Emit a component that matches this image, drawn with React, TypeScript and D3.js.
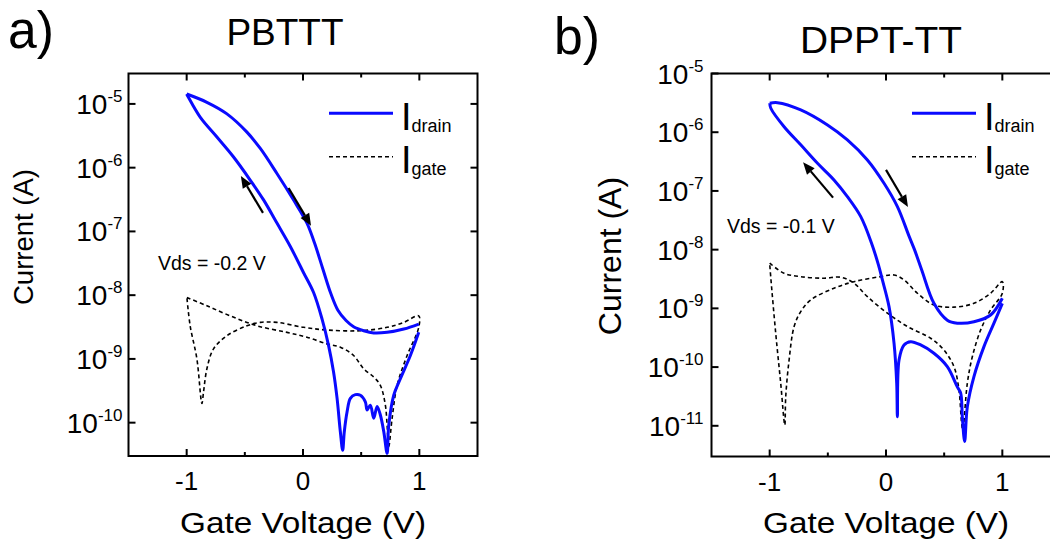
import React from "react";
import * as d3 from "d3";

const FONT = "'Liberation Sans', Arial, Helvetica, sans-serif";
const BLUE = "#0a0aff";

type Pt = [number, number];

// ---------- Panel a) PBTTT ----------
const pbtttDrainForward: Pt[] = [
  [-1.0, 1.43e-5], [-0.826, 1.06e-5], [-0.654, 6.98e-6], [-0.482, 3.61e-6],
  [-0.367, 2.0e-6], [-0.224, 8.1e-7], [-0.081, 3.1e-7], [0.034, 1.35e-7],
  [0.1, 6.5e-8], [0.17, 2.6e-8], [0.24, 1.05e-8], [0.3, 5.8e-9],
  [0.37, 4.0e-9], [0.435, 3.2e-9], [0.522, 2.77e-9], [0.608, 2.55e-9],
  [0.723, 2.61e-9], [0.866, 2.94e-9], [0.995, 3.52e-9],
];
const pbtttDrainReverse: Pt[] = [
  [0.995, 2.61e-9], [0.923, 1.13e-9], [0.837, 4.9e-10], [0.78, 2.69e-10],
  [0.737, 9.1e-11], [0.723, 3.3e-11], [0.694, 7.3e-11], [0.665, 1.32e-10],
  [0.637, 1.8e-10], [0.608, 1.17e-10], [0.579, 1.88e-10], [0.551, 1.58e-10],
  [0.536, 2.12e-10], [0.493, 2.69e-10], [0.45, 2.75e-10], [0.407, 2.4e-10],
  [0.379, 1.48e-10], [0.355, 7.2e-11], [0.341, 3.7e-11], [0.321, 7.2e-11],
  [0.293, 2.4e-10], [0.263, 6.2e-10], [0.22, 1.62e-9], [0.164, 4.2e-9],
  [0.091, 1.1e-8], [0.005, 2.25e-8], [-0.109, 5.8e-8], [-0.224, 1.35e-7],
  [-0.339, 3.12e-7], [-0.454, 6.4e-7], [-0.597, 1.47e-6], [-0.74, 3.02e-6],
  [-0.884, 6.2e-6], [-0.985, 1.27e-5], [-1.0, 1.43e-5],
];
const pbtttGate: Pt[] = [
  [-0.998, 9.2e-9], [-0.826, 6.8e-9], [-0.626, 4.74e-9], [-0.396, 3.31e-9],
  [-0.138, 2.61e-9], [0.034, 2.19e-9], [0.207, 1.72e-9], [0.321, 1.53e-9],
  [0.435, 1.13e-9], [0.522, 7.0e-10], [0.608, 5.2e-10], [0.665, 3.85e-10],
  [0.708, 1.88e-10], [0.723, 9.1e-11], [0.737, 4.2e-11], [0.766, 1.17e-10],
  [0.809, 3.85e-10], [0.895, 1.13e-9], [0.995, 3.13e-9], [0.995, 4.74e-9],
  [0.866, 3.74e-9], [0.723, 3.13e-9], [0.493, 2.77e-9], [0.207, 2.84e-9],
  [0.005, 3.13e-9], [-0.224, 3.74e-9], [-0.367, 3.74e-9], [-0.482, 3.31e-9],
  [-0.654, 2.31e-9], [-0.769, 1.44e-9], [-0.826, 7.0e-10], [-0.855, 3.04e-10],
  [-0.869, 2.0e-10], [-0.912, 1.0e-9], [-0.97, 3.31e-9], [-0.998, 9.2e-9],
];
const pbtttArrowUp: Pt[] = [[-0.344, 1.95e-7], [-0.534, 7.4e-7]];
const pbtttArrowDown: Pt[] = [[-0.124, 4.8e-7], [0.069, 1.23e-7]];
const pbtttYExponents = [-5, -6, -7, -8, -9, -10];

// ---------- Panel b) DPPT-TT ----------
const dpptDrainForward: Pt[] = [
  [-0.999, 3.12e-6], [-0.933, 3.19e-6], [-0.733, 2.4e-6], [-0.503, 1.33e-6],
  [-0.332, 7.4e-7], [-0.16, 3.37e-7], [-0.017, 1.35e-7], [0.098, 5.4e-8],
  [0.198, 1.7e-8], [0.245, 1.0e-8], [0.307, 4.5e-9], [0.412, 1.22e-9],
  [0.527, 6.3e-10], [0.613, 5.6e-10], [0.756, 5.9e-10], [0.899, 7.7e-10],
  [1.0, 1.49e-9],
];
const dpptDrainReverse: Pt[] = [
  [1.0, 1.22e-9], [0.928, 5.6e-10], [0.842, 2.23e-10], [0.756, 6.9e-11],
  [0.699, 2.1e-11], [0.676, 5.4e-12], [0.656, 1.43e-11], [0.642, 3.6e-11],
  [0.613, 4.6e-11], [0.527, 1.02e-10], [0.412, 1.72e-10], [0.298, 2.38e-10],
  [0.212, 2.71e-10], [0.155, 2.38e-10], [0.112, 1.32e-10], [0.098, 1.43e-11],
  [0.092, 5.3e-11], [0.069, 2.55e-10], [0.026, 1.07e-9], [-0.031, 3.05e-9],
  [-0.065, 5.5e-9], [-0.125, 1.3e-8], [-0.217, 3.65e-8], [-0.332, 8.0e-8],
  [-0.447, 1.54e-7], [-0.589, 2.96e-7], [-0.733, 6.1e-7], [-0.876, 1.24e-6],
  [-0.99, 2.56e-6], [-0.999, 3.12e-6],
];
const dpptGate: Pt[] = [
  [-1.0, 5.9e-9], [-0.876, 3.96e-9], [-0.733, 3.47e-9], [-0.533, 3.26e-9],
  [-0.389, 3.39e-9], [-0.275, 2.68e-9], [-0.16, 1.58e-9], [0.012, 8.3e-10],
  [0.184, 4.9e-10], [0.384, 3.1e-10], [0.498, 1.95e-10], [0.584, 1.02e-10],
  [0.627, 4.1e-11], [0.65, 1.1e-11], [0.66, 8.5e-12], [0.699, 5.3e-11],
  [0.742, 1.5e-10], [0.814, 4.3e-10], [0.899, 9.4e-10], [1.0, 1.81e-9],
  [1.0, 2.85e-9], [0.899, 1.81e-9], [0.756, 1.22e-9], [0.584, 1.05e-9],
  [0.412, 1.14e-9], [0.27, 1.81e-9], [0.155, 3.05e-9], [0.069, 3.7e-9],
  [-0.046, 3.47e-9], [-0.275, 2.85e-9], [-0.447, 2.2e-9], [-0.647, 1.39e-9],
  [-0.733, 8.8e-10], [-0.79, 4.9e-10], [-0.833, 1.32e-10], [-0.862, 3.13e-11],
  [-0.87, 1.03e-11], [-0.905, 5.3e-11], [-0.948, 3.77e-10], [-0.991, 3.47e-9],
  [-1.0, 5.9e-9],
];
const dpptArrowUp: Pt[] = [[-0.455, 7.7e-8], [-0.713, 3.08e-7]];
const dpptArrowDown: Pt[] = [[0.0, 2.28e-7], [0.189, 5.3e-8]];
const dpptYExponents = [-5, -6, -7, -8, -9, -10, -11];

const xMajorTicks = [-1, 0, 1];
const xMinorTicks = [-0.5, 0.5];
const xDomain: [number, number] = [-1.5, 1.5];

interface PanelProps {
  x0: number; x1: number; y0: number; y1: number;
  yDomain: [number, number];
  yExps: number[];
  fwd: Pt[]; rev: Pt[]; gate: Pt[];
  arrows: Pt[][];
  vds: string; vdsX: number; vdsY: number;
  legX: number;
  ylabelX: number; ylabelY: number; ylabelSize: number;
  tickLabelGap: number;
}

function Panel(p: PanelProps) {
  const x = d3.scaleLinear().domain(xDomain).range([p.x0, p.x1]);
  const y = d3.scaleLog().domain(p.yDomain).range([p.y1, p.y0]);
  const line = d3
    .line<Pt>()
    .x((d) => x(d[0]))
    .y((d) => y(d[1]))
    .curve(d3.curveCatmullRom.alpha(0.5));
  const w = p.x1 - p.x0;
  const h = p.y1 - p.y0;
  return (
    <g>
      <path d={line(p.gate) || ""} fill="none" stroke="#000" strokeWidth={1.6} strokeDasharray="4,3" />
      <path d={line(p.fwd) || ""} fill="none" stroke={BLUE} strokeWidth={3} strokeLinejoin="round" />
      <path d={line(p.rev) || ""} fill="none" stroke={BLUE} strokeWidth={3} strokeLinejoin="round" />
      {p.arrows.map((a, i) => {
        const xa = x(a[0][0]), ya = y(a[0][1]);
        const xb = x(a[1][0]), yb = y(a[1][1]);
        const ang = Math.atan2(yb - ya, xb - xa);
        const hl = 12, hw = 5;
        const bx = xb - hl * Math.cos(ang), by = yb - hl * Math.sin(ang);
        const px = -Math.sin(ang) * hw, py = Math.cos(ang) * hw;
        return (
          <g key={i}>
            <line x1={xa} y1={ya} x2={bx} y2={by} stroke="#000" strokeWidth={2.2} />
            <polygon points={`${xb},${yb} ${bx + px},${by + py} ${bx - px},${by - py}`} fill="#000" />
          </g>
        );
      })}
      <rect x={p.x0} y={p.y0} width={w} height={h} fill="none" stroke="#000" strokeWidth={2} />
      {xMajorTicks.map((t) => (
        <g key={"M" + t}>
          <line x1={x(t)} x2={x(t)} y1={p.y1} y2={p.y1 - 7} stroke="#000" strokeWidth={2} />
          <line x1={x(t)} x2={x(t)} y1={p.y0} y2={p.y0 + 7} stroke="#000" strokeWidth={2} />
          <text x={x(t)} y={p.y1 + 34} textAnchor="middle" fontSize={26} fontFamily={FONT}>
            {t < 0 ? "-" + Math.abs(t) : String(t)}
          </text>
        </g>
      ))}
      {xMinorTicks.map((t) => (
        <g key={"m" + t}>
          <line x1={x(t)} x2={x(t)} y1={p.y1} y2={p.y1 - 4} stroke="#000" strokeWidth={2} />
          <line x1={x(t)} x2={x(t)} y1={p.y0} y2={p.y0 + 4} stroke="#000" strokeWidth={2} />
        </g>
      ))}
      {p.yExps.map((e) => {
        const yy = y(Math.pow(10, e));
        return (
          <g key={"y" + e}>
            <line x1={p.x0} x2={p.x0 + 7} y1={yy} y2={yy} stroke="#000" strokeWidth={2} />
            <line x1={p.x1} x2={p.x1 - 7} y1={yy} y2={yy} stroke="#000" strokeWidth={2} />
            <text x={p.x0 - p.tickLabelGap} y={yy + 10} textAnchor="end" fontFamily={FONT} fontSize={28}>
              10
              <tspan fontSize={17} dy={-12}>{"-" + Math.abs(e)}</tspan>
            </text>
          </g>
        );
      })}
      <text
        x={x(0)} y={533} textAnchor="middle" fontFamily={FONT} fontSize={30}
        textLength={246} lengthAdjust="spacingAndGlyphs"
      >
        Gate Voltage (V)
      </text>
      <text
        transform={`translate(${p.ylabelX},${p.ylabelY}) rotate(-90)`}
        textAnchor="middle"
        fontFamily={FONT}
        fontSize={p.ylabelSize}
      >
        Current (A)
      </text>
      <text x={p.vdsX} y={p.vdsY} fontFamily={FONT} fontSize={19.5}>
        {p.vds}
      </text>
      <line x1={p.legX} x2={p.legX + 64} y1={113.3} y2={113.3} stroke={BLUE} strokeWidth={3} />
      <line x1={p.legX} x2={p.legX + 64} y1={156.7} y2={156.7} stroke="#000" strokeWidth={1.6} strokeDasharray="4,3" />
      <text x={p.legX + 72} y={130} fontFamily={FONT} fontSize={38}>
        I<tspan fontSize={18} dy={2}>drain</tspan>
      </text>
      <text x={p.legX + 72} y={173} fontFamily={FONT} fontSize={38}>
        I<tspan fontSize={18} dy={2}>gate</tspan>
      </text>
    </g>
  );
}

export default function App() {
  return (
    <svg
      width={1050}
      height={544}
      style={{ position: "absolute", left: 0, top: 0, background: "#fff" }}
    >
      <rect x={0} y={0} width={1050} height={544} fill="#fff" />
      <text x={8} y={48} fontFamily={FONT} fontSize={51} textLength={46} lengthAdjust="spacingAndGlyphs">a)</text>
      <text x={285} y={45} textAnchor="middle" fontFamily={FONT} fontSize={37}>PBTTT</text>
      <text x={554} y={54} fontFamily={FONT} fontSize={52} textLength={46} lengthAdjust="spacingAndGlyphs">b)</text>
      <text x={881} y={53} textAnchor="middle" fontFamily={FONT} fontSize={36.5} textLength={162} lengthAdjust="spacingAndGlyphs">DPPT-TT</text>
      <Panel
        x0={128.5} x1={477.5} y0={73.5} y1={456}
        yDomain={[3e-11, 3e-5]}
        yExps={pbtttYExponents}
        fwd={pbtttDrainForward} rev={pbtttDrainReverse} gate={pbtttGate}
        arrows={[pbtttArrowUp, pbtttArrowDown]}
        vds="Vds = -0.2 V" vdsX={158} vdsY={270}
        legX={329}
        ylabelX={33} ylabelY={237} ylabelSize={27.5}
        tickLabelGap={6}
      />
      <Panel
        x0={711.5} x1={1060.5} y0={73.5} y1={456.5}
        yDomain={[3e-12, 1e-5]}
        yExps={dpptYExponents}
        fwd={dpptDrainForward} rev={dpptDrainReverse} gate={dpptGate}
        arrows={[dpptArrowUp, dpptArrowDown]}
        vds="Vds = -0.1 V" vdsX={727} vdsY={233}
        legX={912}
        ylabelX={621} ylabelY={256} ylabelSize={32}
        tickLabelGap={8}
      />
    </svg>
  );
}
